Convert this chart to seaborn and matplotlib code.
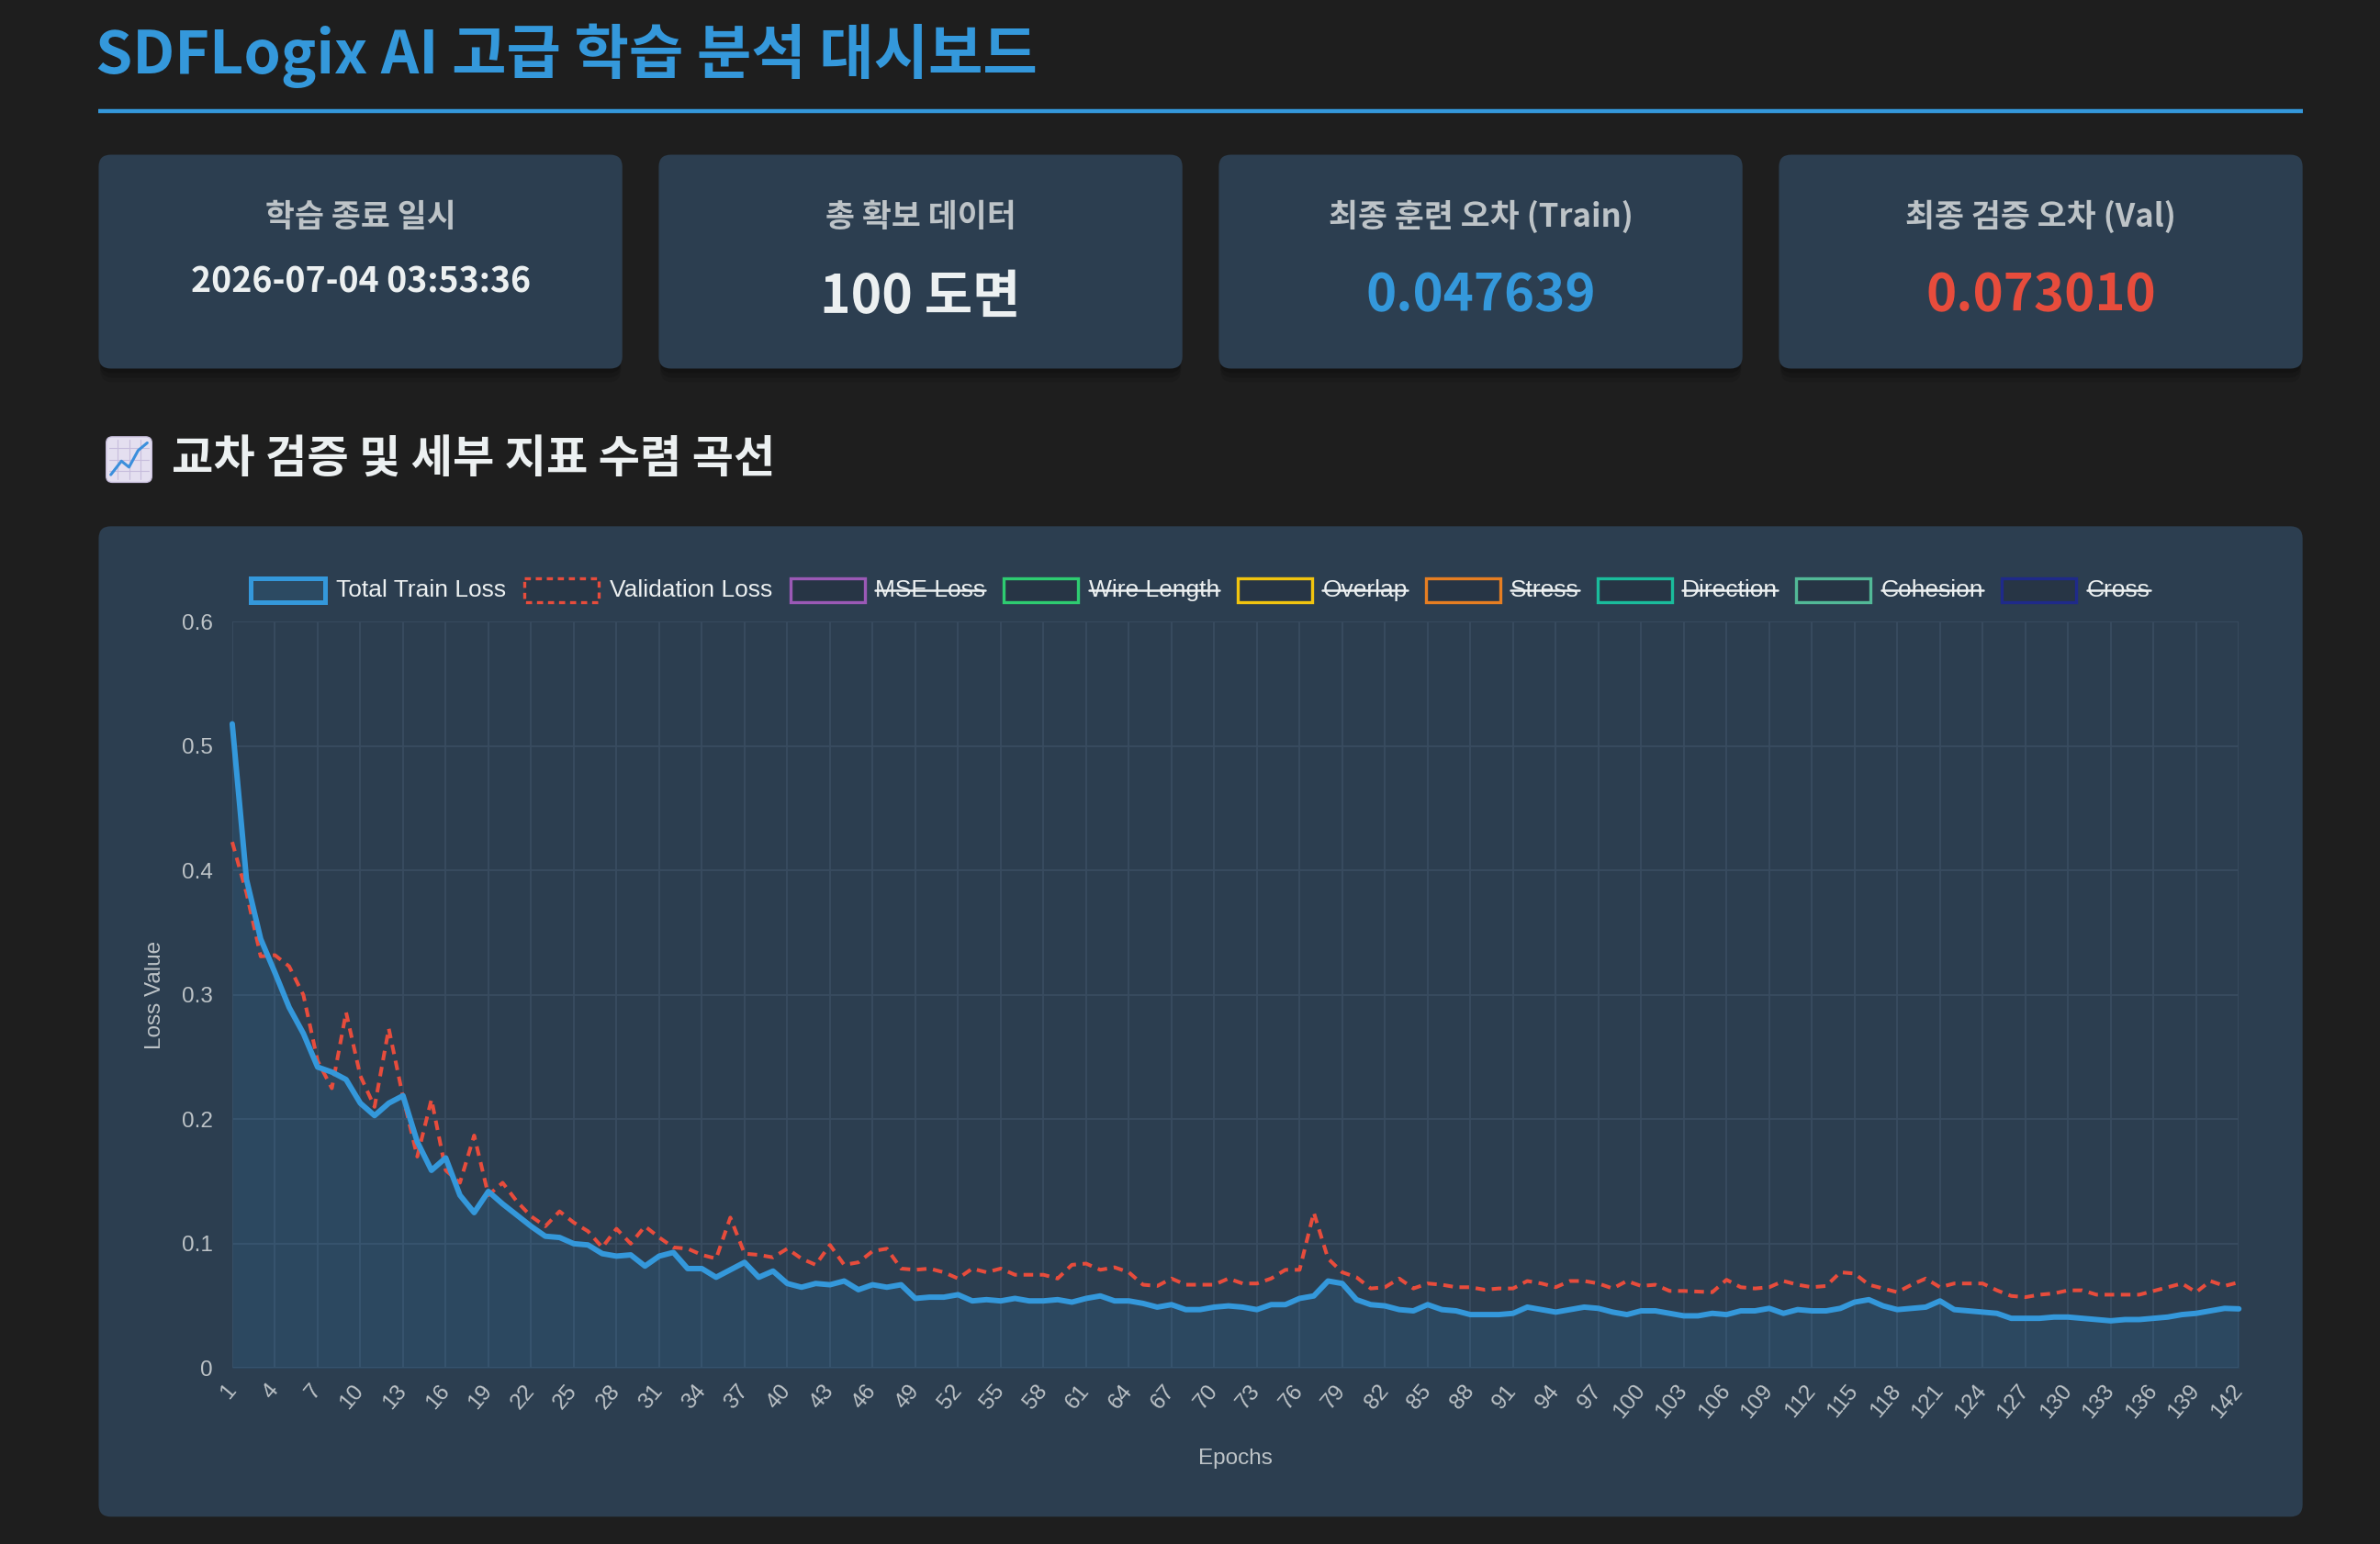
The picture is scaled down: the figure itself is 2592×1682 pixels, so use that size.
import matplotlib
matplotlib.use("Agg")
import matplotlib.pyplot as plt
import pandas as pd
import seaborn as sns
from matplotlib.patches import FancyBboxPatch, Rectangle
from matplotlib.ticker import FuncFormatter

# ---- data ----
epochs = list(range(1, 143))

train_loss = [
    0.518, 0.393, 0.345, 0.318, 0.290, 0.269, 0.242, 0.238, 0.232, 0.213,
    0.203, 0.213, 0.219, 0.182, 0.159, 0.169, 0.139, 0.125, 0.142, 0.132,
    0.123, 0.114, 0.106, 0.105, 0.100, 0.099, 0.092, 0.090, 0.091, 0.082,
    0.090, 0.093, 0.080, 0.080, 0.073, 0.079, 0.085, 0.073, 0.078, 0.068,
    0.065, 0.068, 0.067, 0.070, 0.063, 0.067, 0.065, 0.067, 0.056, 0.057,
    0.057, 0.059, 0.054, 0.055, 0.054, 0.056, 0.054, 0.054, 0.055, 0.053,
    0.056, 0.058, 0.054, 0.054, 0.052, 0.049, 0.051, 0.047, 0.047, 0.049,
    0.050, 0.049, 0.047, 0.051, 0.051, 0.056, 0.058, 0.070, 0.068, 0.055,
    0.051, 0.050, 0.047, 0.046, 0.051, 0.047, 0.046, 0.043, 0.043, 0.043,
    0.044, 0.049, 0.047, 0.045, 0.047, 0.049, 0.048, 0.045, 0.043, 0.046,
    0.046, 0.044, 0.042, 0.042, 0.044, 0.043, 0.046, 0.046, 0.048, 0.044,
    0.047, 0.046, 0.046, 0.048, 0.053, 0.055, 0.050, 0.047, 0.048, 0.049,
    0.054, 0.047, 0.046, 0.045, 0.044, 0.040, 0.040, 0.040, 0.041, 0.041,
    0.040, 0.039, 0.038, 0.039, 0.039, 0.040, 0.041, 0.043, 0.044, 0.046,
    0.048, 0.0476,
]

val_loss = [
    0.423, 0.382, 0.331, 0.332, 0.323, 0.300, 0.247, 0.225, 0.286, 0.235,
    0.210, 0.273, 0.218, 0.170, 0.216, 0.159, 0.149, 0.187, 0.139, 0.149,
    0.134, 0.122, 0.114, 0.126, 0.117, 0.110, 0.097, 0.112, 0.100, 0.114,
    0.105, 0.097, 0.096, 0.091, 0.088, 0.121, 0.092, 0.091, 0.089, 0.096,
    0.088, 0.083, 0.099, 0.083, 0.085, 0.094, 0.096, 0.080, 0.079, 0.080,
    0.077, 0.072, 0.080, 0.077, 0.080, 0.075, 0.075, 0.075, 0.072, 0.083,
    0.084, 0.079, 0.081, 0.077, 0.067, 0.066, 0.072, 0.067, 0.067, 0.067,
    0.072, 0.068, 0.068, 0.072, 0.079, 0.079, 0.125, 0.088, 0.077, 0.073,
    0.064, 0.065, 0.072, 0.064, 0.068, 0.067, 0.065, 0.065, 0.063, 0.064,
    0.064, 0.070, 0.068, 0.065, 0.070, 0.070, 0.068, 0.064, 0.070, 0.066,
    0.067, 0.062, 0.062, 0.0615, 0.061, 0.071, 0.065, 0.064, 0.065, 0.070,
    0.067, 0.065, 0.066, 0.077, 0.076, 0.067, 0.064, 0.061, 0.067, 0.072,
    0.065, 0.068, 0.068, 0.068, 0.0625, 0.058, 0.057, 0.059, 0.060, 0.0625,
    0.0625, 0.059, 0.059, 0.059, 0.059, 0.062, 0.065, 0.068, 0.061, 0.070,
    0.066, 0.069,
]

# legend entries that are switched off in the chart
hidden_names = ["MSE Loss", "Wire Length", "Overlap", "Stress",
                "Direction", "Cohesion", "Cross"]
hidden_colors = ["#9b59b6", "#2ecc71", "#f1c40f", "#e67e22",
                 "#1abc9c", "#52b997", "#1f2a8a"]

card_titles = ["학습 종료 일시", "총 확보 데이터",
               "최종 훈련 오차 (Train)", "최종 검증 오차 (Val)"]
card_values = ["2026-07-04 03:53:36", "100 도면", "0.047639", "0.073010"]

page_title = "SDFLogix AI 고급 학습 분석 대시보드"
section_title = "교차 검증 및 세부 지표 수렴 곡선"

# ---- colours ----
BG = "#1e1e1e"
CARD = "#2c3e50"
BLUE = "#3498db"
RED = "#e74c3c"
LIGHT = "#ecf0f1"
GREY = "#bdc3c7"
GRID = "#394c60"

sns.set_theme(style="dark")
plt.rcParams["font.family"] = ["Noto Sans CJK KR", "DejaVu Sans"]
CHART_FONT = ["Liberation Sans", "DejaVu Sans"]

W, H = 1568, 1018          # layout units (reference screenshot scale)
fig = plt.figure(figsize=(25.92, 16.82), dpi=100, facecolor=BG)

bg = fig.add_axes([0, 0, 1, 1], zorder=0)
bg.set_xlim(0, W)
bg.set_ylim(H, 0)
bg.axis("off")
bg.set_facecolor(BG)


def rounded_box(ax, x0, y0, x1, y1, color, r=8, shadow=False):
    if shadow:
        for off, a in [(9, 0.08), (6, 0.12), (3, 0.16)]:
            ax.add_patch(FancyBboxPatch((x0 + 1, y0 + off), x1 - x0 - 2, y1 - y0,
                                        boxstyle=f"round,pad=0,rounding_size={r}",
                                        fc="black", ec="none", alpha=a, zorder=1))
    ax.add_patch(FancyBboxPatch((x0, y0), x1 - x0, y1 - y0,
                                boxstyle=f"round,pad=0,rounding_size={r}",
                                fc=color, ec="none", zorder=2))


# header
bg.text(63, 37, page_title, color=BLUE, fontsize=46.5, fontweight="bold",
        ha="left", va="center")
bg.plot([65, 1517], [73.5, 73.5], color=BLUE, lw=3.2, solid_capstyle="butt")

# stat cards
card_x = [(65, 410), (434, 779), (803, 1148), (1172, 1517)]
value_colors = [LIGHT, LIGHT, BLUE, RED]
value_sizes = [27, 41, 40.5, 40.5]
value_y = [186, 196, 195, 195]
for (x0, x1), t, v, c, s, vy in zip(card_x, card_titles, card_values,
                                      value_colors, value_sizes, value_y):
    rounded_box(bg, x0, 102, x1, 243, CARD, shadow=True)
    cx = (x0 + x1) / 2
    bg.text(cx, 143, t, color=GREY, fontsize=25, fontweight="bold",
            ha="center", va="center", zorder=3)
    bg.text(cx, vy, v, color=c, fontsize=s, fontweight="bold",
            ha="center", va="center", zorder=3)

# section heading with a small chart icon
ix, iy, isz = 70, 288, 30
bg.add_patch(FancyBboxPatch((ix, iy), isz, isz, boxstyle="round,pad=0,rounding_size=4",
                            fc="#e4dff0", ec="#c8bfdc", lw=1, zorder=3))
for k in range(1, 4):
    bg.plot([ix + k * isz / 4] * 2, [iy + 2, iy + isz - 2], color="#c6bcdc", lw=0.8, zorder=3)
    bg.plot([ix + 2, ix + isz - 2], [iy + k * isz / 4] * 2, color="#c6bcdc", lw=0.8, zorder=3)
bg.plot([ix + 3, ix + 10, ix + 15, ix + 21, ix + 27],
        [iy + 25, iy + 16, iy + 20, iy + 9, iy + 4], color="#3b8fdc", lw=2.2,
        solid_joinstyle="round", zorder=4)
bg.text(113, 303, section_title, color=LIGHT, fontsize=35.5, fontweight="bold",
        ha="left", va="center")

# chart card
rounded_box(bg, 65, 347, 1517, 1000, CARD)

# ---- the chart ----
df = pd.DataFrame({"epoch": epochs, "train": train_loss, "val": val_loss})

ax_l, ax_r, ax_t, ax_b = 153, 1475, 410, 902
ax = fig.add_axes([ax_l / W, 1 - ax_b / H, (ax_r - ax_l) / W, (ax_b - ax_t) / H], zorder=2)
ax.set_facecolor("none")

ax.fill_between(df["epoch"], df["train"], color=BLUE, alpha=0.12, lw=0, zorder=2)
sns.lineplot(data=df, x="epoch", y="val", ax=ax, color=RED, linewidth=2.9,
             linestyle=(0, (2.6, 1.8)), zorder=3, clip_on=False)
sns.lineplot(data=df, x="epoch", y="train", ax=ax, color=BLUE, linewidth=4.3,
             zorder=4, clip_on=False, solid_joinstyle="round")

ax.set_xlim(1, 142)
ax.set_ylim(0, 0.6)
ax.set_xticks(epochs[::3])
ax.set_yticks([0, 0.1, 0.2, 0.3, 0.4, 0.5, 0.6])
ax.yaxis.set_major_formatter(FuncFormatter(lambda v, p: "0" if v == 0 else f"{v:.1f}"))
ax.grid(True, color=GRID, lw=1.3)
ax.set_axisbelow(True)
for sp in ax.spines.values():
    sp.set_visible(False)
ax.tick_params(axis="both", colors=GRID, length=10, width=1.3, labelcolor=GREY,
               labelsize=17.5, pad=5)
for lab in ax.get_xticklabels():
    lab.set_rotation(50)
    lab.set_ha("right")
    lab.set_rotation_mode("anchor")
    lab.set_va("center")
    lab.set_family(CHART_FONT)
for lab in ax.get_yticklabels():
    lab.set_family(CHART_FONT)

ax.set_xlabel("Epochs", color=GREY, fontsize=17.5, family=CHART_FONT)
ax.set_ylabel("Loss Value", color=GREY, fontsize=17.5, family=CHART_FONT)
ax.xaxis.set_label_coords(0.5, -(962 - ax_b) / (ax_b - ax_t))
ax.xaxis.label.set_va("center")
ax.yaxis.set_label_coords(-(ax_l - 102) / (ax_r - ax_l), 0.5)
ax.yaxis.label.set_va("center")

# ---- legend (Chart.js style, hidden series struck through) ----
leg_names = ["Total Train Loss", "Validation Loss"] + hidden_names
leg_colors = [BLUE, RED] + hidden_colors
leg_y, box_w, box_h, gap_txt, gap_item = 389, 49, 16, 7, 12
renderer = fig.canvas.get_renderer()
texts = []
widths = []
for name in leg_names:
    t = bg.text(0, leg_y, name, color=LIGHT, fontsize=19, family=CHART_FONT,
                ha="left", va="center", zorder=5)
    texts.append(t)
    widths.append(t.get_window_extent(renderer).width / (2592 / W))
total = sum(box_w + gap_txt + w for w in widths) + gap_item * (len(widths) - 1)
x = (65 + 1517) / 2 - total / 2
for i, (t, w, c) in enumerate(zip(texts, widths, leg_colors)):
    if i == 0:
        bg.add_patch(Rectangle((x, leg_y - box_h / 2), box_w, box_h, fc="#2c4a62",
                               ec=c, lw=3.6, zorder=5))
    elif i == 1:
        bg.add_patch(Rectangle((x, leg_y - box_h / 2), box_w, box_h, fc="#283747",
                               ec=c, lw=2.4, ls=(0, (2, 1.6)), zorder=5))
    else:
        bg.add_patch(Rectangle((x, leg_y - box_h / 2), box_w, box_h, fc="#273545",
                               ec=c, lw=2.4, zorder=5))
    tx = x + box_w + gap_txt
    t.set_x(tx)
    if i >= 2:
        bg.plot([tx, tx + w], [leg_y, leg_y], color=LIGHT, lw=1.8, zorder=6)
    x = tx + w + gap_item

fig.savefig("out.png", dpi=100, facecolor=BG)
